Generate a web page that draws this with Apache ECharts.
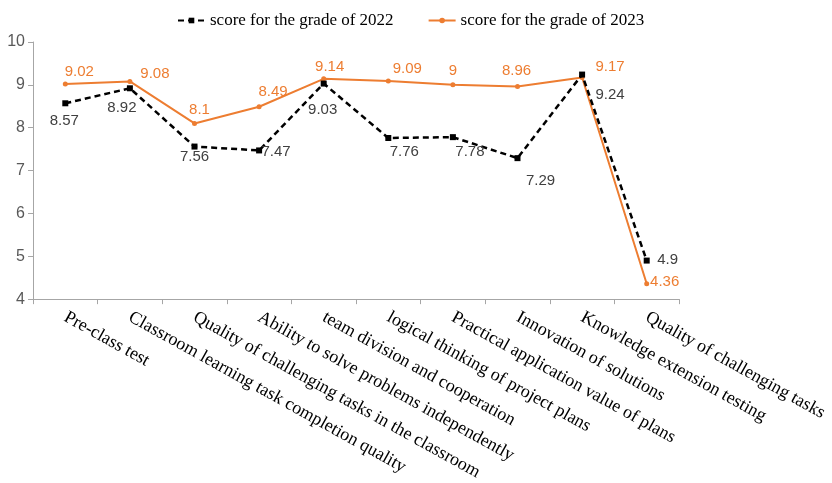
<!DOCTYPE html>
<html>
<head>
<meta charset="utf-8">
<script src="https://cdn.jsdelivr.net/npm/echarts@6/dist/echarts.min.js"></script>
<style>html,body{margin:0;padding:0;background:#fff}#c{width:832px;height:483px}</style>
</head>
<body>
<div id="c"></div>
<script>
const categories = [
  'Pre-class test',
  'Classroom learning task completion quality',
  'Quality of challenging tasks in the classroom',
  'Ability to solve problems independently',
  'team division and cooperation',
  'logical thinking of project plans',
  'Practical application value of plans',
  'Innovation of solutions',
  'Knowledge extension testing',
  'Quality of challenging tasks'
];
const score2022 = [8.57, 8.92, 7.56, 7.47, 9.03, 7.76, 7.78, 7.29, 9.24, 4.9];
const score2023 = [9.02, 9.08, 8.1, 8.49, 9.14, 9.09, 9, 8.96, 9.17, 4.36];
const yTicks = [4, 5, 6, 7, 8, 9, 10];

const off2022 = [[-1,18],[-8,20],[0,10],[17,1],[-1,26],[16,14],[17,15],[23,23],[28,20],[21,-1]];
const off2023 = [[14,-12],[25,-8],[5,-14],[14,-15],[6,-12],[19,-12],[0,-14],[-1,-16],[28,-11],[18,-2]];

const chart = echarts.init(document.getElementById('c'), null, {renderer: 'canvas'});
const labelFont = 'Liberation Sans, Arial, sans-serif';
chart.setOption({
  animation: false,
  backgroundColor: '#fff',
  legend: {
    top: 7,
    left: 172,
    itemGap: 34,
    itemWidth: 27,
    itemHeight: 7,
    textStyle: {fontFamily: 'Liberation Serif, Times New Roman, serif', fontSize: 17, color: '#000'},
    data: ['score for the grade of 2022', 'score for the grade of 2023']
  },
  grid: {left: 33, right: 153, top: 42, bottom: 180, containLabel: false},
  xAxis: {
    type: 'category',
    data: categories,
    boundaryGap: true,
    axisLine: {lineStyle: {color: '#a6a6a6', width: 1}},
    axisTick: {show: true, alignWithLabel: false, length: 5, lineStyle: {color: '#a6a6a6'}},
    axisLabel: {
      interval: 0,
      rotate: -29,
      margin: 17,
      fontFamily: 'Liberation Serif, Times New Roman, serif',
      fontSize: 18,
      color: '#000'
    }
  },
  yAxis: {
    type: 'value',
    min: yTicks[0],
    max: yTicks[yTicks.length - 1],
    interval: 1,
    axisLine: {show: true, lineStyle: {color: '#a6a6a6', width: 1}},
    axisTick: {show: true, length: 5, lineStyle: {color: '#a6a6a6'}},
    splitLine: {show: false},
    axisLabel: {fontFamily: labelFont, fontSize: 16, color: '#595959', margin: 8}
  },
  series: [
    {
      name: 'score for the grade of 2022',
      type: 'line',
      data: score2022.map((v, i) => ({
        value: v,
        label: {offset: off2022[i]}
      })),
      symbol: 'rect',
      symbolSize: 6,
      itemStyle: {color: '#000'},
      lineStyle: {color: '#000', width: 2.5, type: [6, 4]},
      label: {
        show: true,
        position: 'inside',
        fontFamily: labelFont,
        fontSize: 15,
        color: '#404040'
      },
      z: 3
    },
    {
      name: 'score for the grade of 2023',
      type: 'line',
      data: score2023.map((v, i) => ({
        value: v,
        label: {offset: off2023[i]}
      })),
      symbol: 'circle',
      symbolSize: 5,
      itemStyle: {color: '#ED7D31'},
      lineStyle: {color: '#ED7D31', width: 2},
      label: {
        show: true,
        position: 'inside',
        fontFamily: labelFont,
        fontSize: 15,
        color: '#ED7D31'
      },
      z: 2
    }
  ]
});
</script>
</body>
</html>
